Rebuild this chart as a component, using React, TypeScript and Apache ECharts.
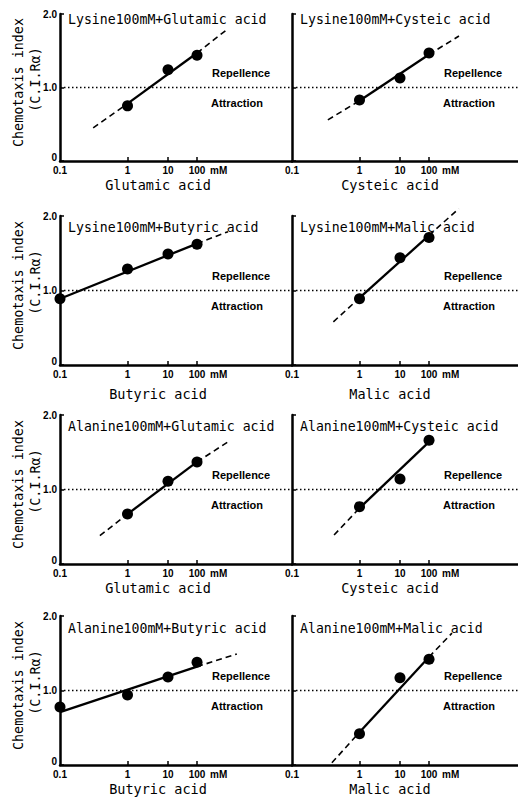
import React, { useEffect, useRef } from "react";
import * as echarts from "echarts";

// ---- axis ticks (concentration, mM) ----
const TICK_CONC = [0.1, 1, 10, 100];
const TICK_POS = [0, 1, 1.6, 2.03];
const TICK_LABELS = ["0.1", "1", "10", "100"];
const Y_LABELS: Record<string, string> = { "0": "{z|0}", "1": "1.0", "2": "2.0" };

// ---- panel titles / axis names ----
const TITLES = [
  "Lysine100mM+Glutamic acid",
  "Lysine100mM+Cysteic acid",
  "Lysine100mM+Butyric acid",
  "Lysine100mM+Malic acid",
  "Alanine100mM+Glutamic acid",
  "Alanine100mM+Cysteic acid",
  "Alanine100mM+Butyric acid",
  "Alanine100mM+Malic acid",
];
const X_NAMES = [
  "Glutamic acid",
  "Cysteic acid",
  "Butyric acid",
  "Malic acid",
  "Glutamic acid",
  "Cysteic acid",
  "Butyric acid",
  "Malic acid",
];

// ---- measured points (conc mM, C.I.) ----
const LYS_GLU_CONC = [1, 10, 100];
const LYS_GLU_CI = [0.75, 1.24, 1.44];
const LYS_CYS_CONC = [1, 10, 100];
const LYS_CYS_CI = [0.83, 1.13, 1.47];
const LYS_BUT_CONC = [0.1, 1, 10, 100];
const LYS_BUT_CI = [0.89, 1.29, 1.49, 1.62];
const LYS_MAL_CONC = [1, 10, 100];
const LYS_MAL_CI = [0.89, 1.44, 1.71];
const ALA_GLU_CONC = [1, 10, 100];
const ALA_GLU_CI = [0.67, 1.11, 1.37];
const ALA_CYS_CONC = [1, 10, 100];
const ALA_CYS_CI = [0.77, 1.14, 1.66];
const ALA_BUT_CONC = [0.1, 1, 10, 100];
const ALA_BUT_CI = [0.78, 0.94, 1.18, 1.38];
const ALA_MAL_CONC = [1, 10, 100];
const ALA_MAL_CI = [0.42, 1.17, 1.42];

// ---- regression lines: [dash start, solid start, solid end, dash end] ----
const LYS_GLU_LINE_CONC = [0.31, 1, 100, 1170];
const LYS_GLU_LINE_CI = [0.45, 0.78, 1.47, 1.8];
const LYS_CYS_LINE_CONC = [0.34, 1, 100, 1075];
const LYS_CYS_LINE_CI = [0.56, 0.82, 1.45, 1.7];
const LYS_BUT_LINE_CONC = [0.1, 0.1, 100, 1170];
const LYS_BUT_LINE_CI = [0.89, 0.89, 1.63, 1.79];
const LYS_MAL_LINE_CONC = [0.41, 1, 100, 1070];
const LYS_MAL_LINE_CI = [0.58, 0.9, 1.74, 2.1];
const ALA_GLU_LINE_CONC = [0.39, 1, 100, 1170];
const ALA_GLU_LINE_CI = [0.38, 0.67, 1.37, 1.64];
const ALA_CYS_LINE_CONC = [0.42, 1, 100, 100];
const ALA_CYS_LINE_CI = [0.39, 0.75, 1.64, 1.64];
const ALA_BUT_LINE_CONC = [0.1, 0.1, 100, 2350];
const ALA_BUT_LINE_CI = [0.71, 0.71, 1.32, 1.49];
const ALA_MAL_LINE_CONC = [0.39, 1, 100, 617];
const ALA_MAL_LINE_CI = [0.03, 0.44, 1.45, 1.77];

const PANEL_DATA = [
  [LYS_GLU_CONC, LYS_GLU_CI, LYS_GLU_LINE_CONC, LYS_GLU_LINE_CI],
  [LYS_CYS_CONC, LYS_CYS_CI, LYS_CYS_LINE_CONC, LYS_CYS_LINE_CI],
  [LYS_BUT_CONC, LYS_BUT_CI, LYS_BUT_LINE_CONC, LYS_BUT_LINE_CI],
  [LYS_MAL_CONC, LYS_MAL_CI, LYS_MAL_LINE_CONC, LYS_MAL_LINE_CI],
  [ALA_GLU_CONC, ALA_GLU_CI, ALA_GLU_LINE_CONC, ALA_GLU_LINE_CI],
  [ALA_CYS_CONC, ALA_CYS_CI, ALA_CYS_LINE_CONC, ALA_CYS_LINE_CI],
  [ALA_BUT_CONC, ALA_BUT_CI, ALA_BUT_LINE_CONC, ALA_BUT_LINE_CI],
  [ALA_MAL_CONC, ALA_MAL_CI, ALA_MAL_LINE_CONC, ALA_MAL_LINE_CI],
];

// ---- layout ----
const ROW_TOP = [14, 216, 415, 616];
const ROW_H = [147, 149, 149, 149];
const COL_LEFT = [60, 292];
const COL_W = [232, 226];
const PX_PER_UNIT = 67.5;
const TITLE_DY = [5, 11, 11, 12];
const XNAME_DY = [24, 29, 24, 24];

const MONO = '"DejaVu Sans Mono", "Liberation Mono", monospace';
const SANS = '"Liberation Sans", Arial, sans-serif';

// piecewise log scale of the original figure's x axis
function pos(c: number): number {
  const logs = TICK_CONC.map((v) => Math.log10(v));
  const l = Math.log10(c);
  let i = 0;
  if (l > logs[2]) i = 2;
  else if (l > logs[1]) i = 1;
  return TICK_POS[i] + ((l - logs[i]) * (TICK_POS[i + 1] - TICK_POS[i])) / (logs[i + 1] - logs[i]);
}

function tickLabel(v: number): string {
  for (let i = 0; i < TICK_POS.length; i++) {
    if (Math.abs(v - TICK_POS[i]) < 1e-6) return TICK_LABELS[i];
  }
  return "";
}

export default function App() {
  const ref = useRef<HTMLDivElement>(null);

  useEffect(() => {
    document.body.style.margin = "0";
    if (!ref.current) return;
    const chart = echarts.init(ref.current, undefined, { renderer: "svg" });

    const grids: any[] = [];
    const xAxes: any[] = [];
    const yAxes: any[] = [];
    const series: any[] = [];
    const graphics: any[] = [];

    PANEL_DATA.forEach(([conc, ci, lconc, lci], i) => {
      const row = Math.floor(i / 2);
      const col = i % 2;
      const left = COL_LEFT[col];
      const top = ROW_TOP[row];
      const w = COL_W[col];
      const h = ROW_H[row];
      const zero = top + h;
      grids.push({ left, top, width: w, height: h, containLabel: false, outerBoundsMode: "none" });
      xAxes.push({
        gridIndex: i,
        type: "value",
        min: 0,
        max: w / PX_PER_UNIT,
        splitLine: { show: false },
        axisLine: { lineStyle: { color: "#000", width: 2.5 } },
        axisTick: {
          inside: true,
          length: 4,
          customValues: TICK_POS.slice(1),
          lineStyle: { color: "#000", width: 1.5 },
        },
        axisLabel: {
          customValues: TICK_POS,
          formatter: (v: number) => tickLabel(v),
          color: "#000",
          fontFamily: SANS,
          fontWeight: "bold",
          fontSize: 10,
          margin: 4,
        },
      });
      yAxes.push({
        gridIndex: i,
        type: "value",
        min: 0,
        max: 2,
        interval: 1,
        splitLine: { show: false },
        axisLine: { show: true, lineStyle: { color: "#000", width: 2.5 } },
        axisTick: { show: true, inside: true, length: 4, lineStyle: { color: "#000", width: 1.5 } },
        axisLabel: {
          show: col === 0,
          formatter: (v: number) => Y_LABELS[String(v)] ?? "",
          color: "#000",
          fontFamily: SANS,
          fontWeight: "bold",
          fontSize: 10,
          margin: 3,
          rich: {
            z: {
              color: "#000",
              fontFamily: SANS,
              fontWeight: "bold",
              fontSize: 10,
              padding: [0, 0, 8, 0],
            },
          },
        },
      });

      const L = (lconc as number[]).map((c, k) => [pos(c), (lci as number[])[k]]);
      series.push({
        type: "line",
        xAxisIndex: i,
        yAxisIndex: i,
        data: [L[1], L[2]],
        showSymbol: false,
        clip: false,
        lineStyle: { color: "#000", width: 2.3 },
        z: 3,
        markLine: {
          silent: true,
          symbol: ["none", "none"],
          label: { show: false },
          lineStyle: { color: "#000", width: 1.4, type: [1.5, 2.5] },
          data: [{ yAxis: 1 }],
        },
      });
      series.push({
        type: "line",
        xAxisIndex: i,
        yAxisIndex: i,
        data: [L[0], L[1]],
        showSymbol: false,
        clip: false,
        lineStyle: { color: "#000", width: 1.6, type: [6, 4] },
        z: 2,
      });
      series.push({
        type: "line",
        xAxisIndex: i,
        yAxisIndex: i,
        data: [L[2], L[3]],
        showSymbol: false,
        clip: false,
        lineStyle: { color: "#000", width: 1.6, type: [6, 4] },
        z: 2,
      });
      series.push({
        type: "scatter",
        xAxisIndex: i,
        yAxisIndex: i,
        data: (conc as number[]).map((c, k) => [pos(c), (ci as number[])[k]]),
        symbol: "circle",
        symbolSize: 11,
        itemStyle: { color: "#000", opacity: 1 },
        z: 5,
      });

      // annotations
      graphics.push({
        type: "text",
        x: left + 8,
        y: top + TITLE_DY[row],
        style: { text: TITLES[i], font: `13.2px ${MONO}`, fill: "#000", verticalAlign: "middle", align: "left" },
        z: 10,
      });
      graphics.push({
        type: "text",
        x: left + 98,
        y: zero + XNAME_DY[row],
        style: { text: X_NAMES[i], font: `13.5px ${MONO}`, fill: "#000", verticalAlign: "middle", align: "center" },
      });
      graphics.push({
        type: "text",
        x: left + TICK_POS[3] * PX_PER_UNIT + 13,
        y: zero + 4,
        style: { text: "mM", font: `bold 10px ${SANS}`, fill: "#000", verticalAlign: "top", align: "left" },
      });
      const y1 = zero - h / 2;
      graphics.push({
        type: "text",
        x: left + 152,
        y: y1 - 15,
        style: { text: "Repellence", font: `bold 11px ${SANS}`, fill: "#000", verticalAlign: "middle", align: "left" },
      });
      graphics.push({
        type: "text",
        x: left + 151,
        y: y1 + 15,
        style: { text: "Attraction", font: `bold 11px ${SANS}`, fill: "#000", verticalAlign: "middle", align: "left" },
      });
      if (col === 0) {
        const cy = top + h / 2;
        graphics.push({
          type: "text",
          x: 18,
          y: cy - 5,
          rotation: Math.PI / 2,
          style: { text: "Chemotaxis index", font: `13.4px ${MONO}`, fill: "#000", verticalAlign: "middle", align: "center" },
        });
        graphics.push({
          type: "text",
          x: 35,
          y: cy - 8,
          rotation: Math.PI / 2,
          style: { text: "(C.I.Rα)", font: `13.4px ${MONO}`, fill: "#000", verticalAlign: "middle", align: "center" },
        });
      }
    });

    chart.setOption({
      animation: false,
      backgroundColor: "#fff",
      grid: grids,
      xAxis: xAxes,
      yAxis: yAxes,
      series,
      graphic: graphics,
    });

    return () => chart.dispose();
  }, []);

  return <div ref={ref} style={{ width: 518, height: 798 }} />;
}
